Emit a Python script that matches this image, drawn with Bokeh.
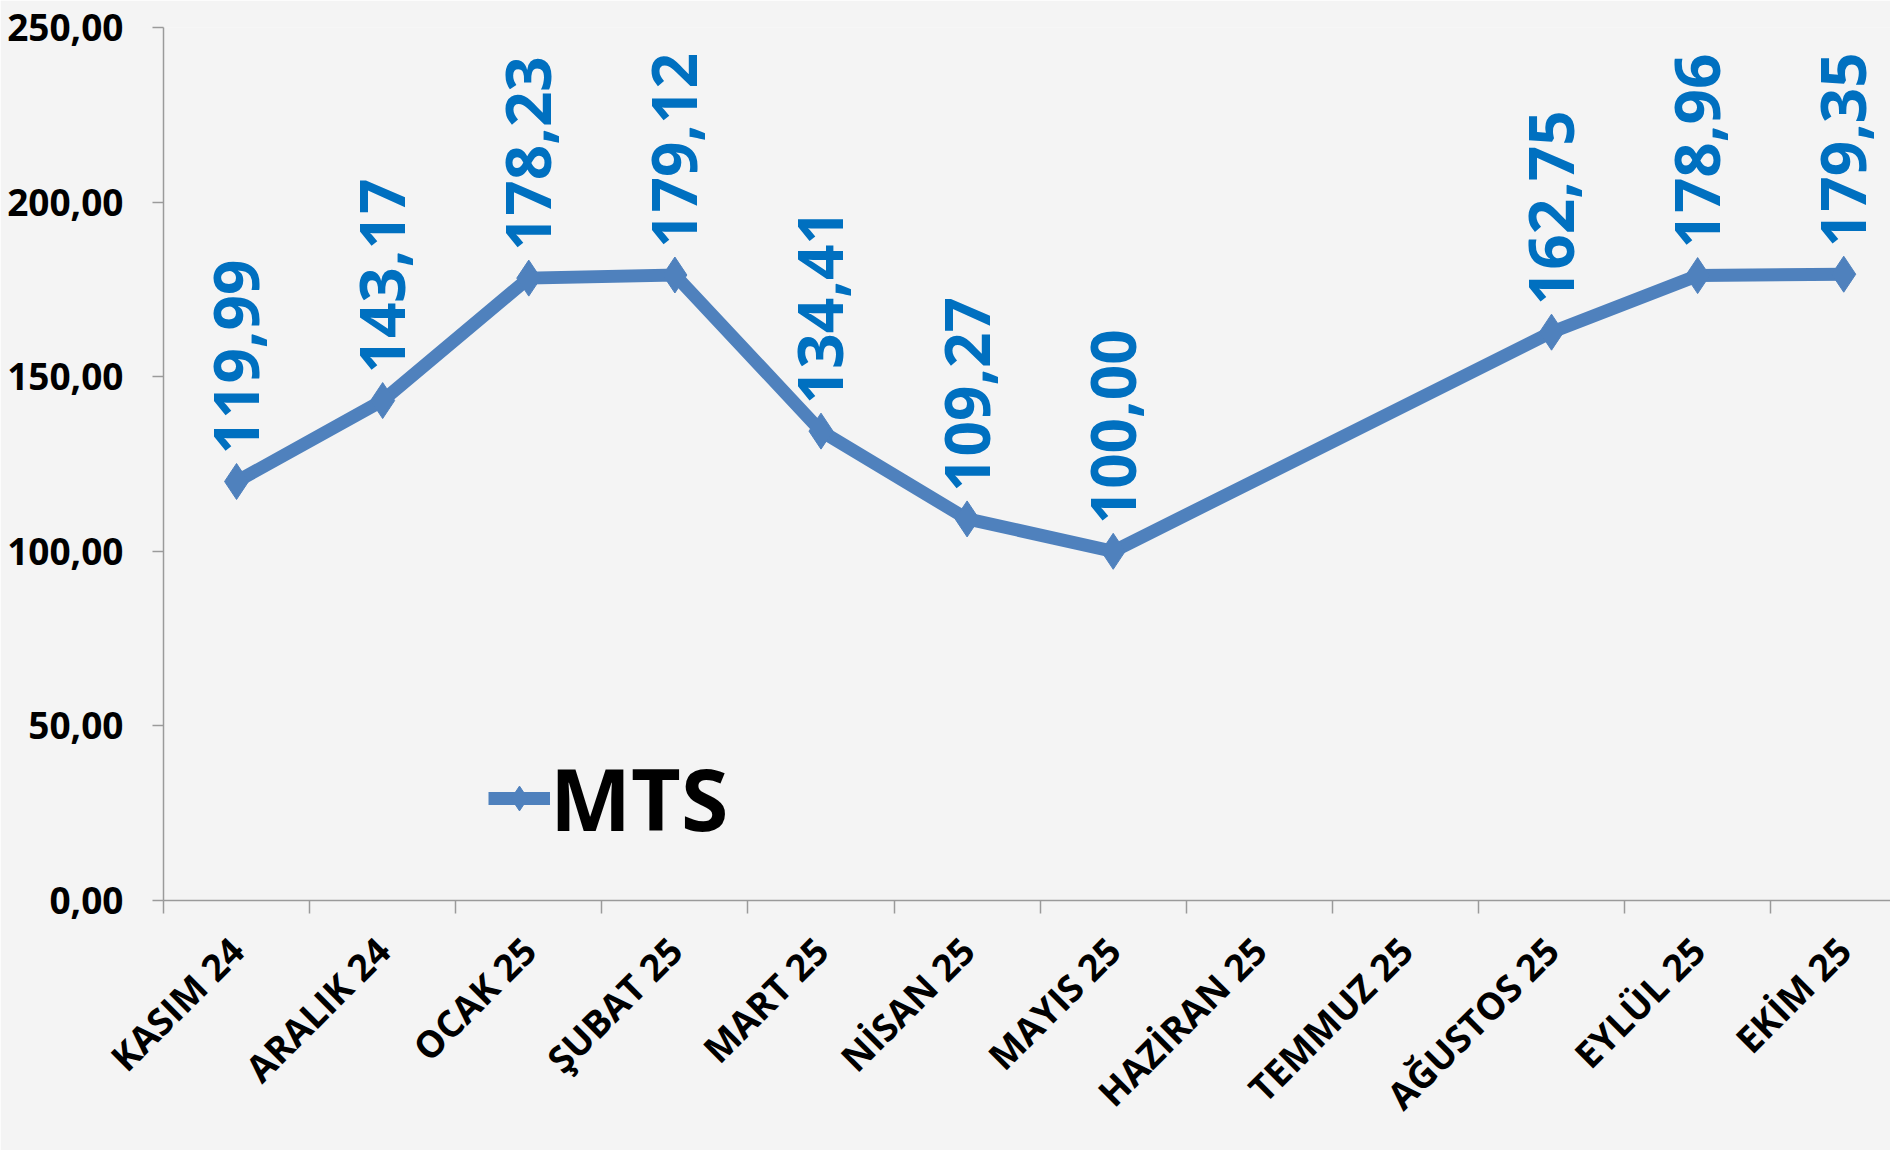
import math
from bokeh.plotting import figure
from bokeh.models import (ColumnDataSource, FixedTicker, Range1d, Legend, LegendItem)
from bokeh.core.properties import value
from bokeh.embed import file_html
from bokeh.resources import INLINE

# ---- data ----
categories = ["KASIM 24", "ARALIK 24", "OCAK 25", "ŞUBAT 25", "MART 25", "NİSAN 25",
              "MAYIS 25", "HAZİRAN 25", "TEMMUZ 25", "AĞUSTOS 25", "EYLÜL 25", "EKİM 25"]
mts_values = [119.99, 143.17, 178.23, 179.12, 134.41, 109.27, 100.00,
              None, None, 162.75, 178.96, 179.35]
y_ticks = [0, 50, 100, 150, 200, 250]
y_tick_labels = ["0,00", "50,00", "100,00", "150,00", "200,00", "250,00"]
series_name = "MTS"

FONT = "Open Sans"
BG = "#f4f4f4"
LINE = "#4f81bd"
LABEL = "#0070c0"
AXIS = "#9a9a9a"

xs = [i for i, v in enumerate(mts_values) if v is not None]
ys = [v for v in mts_values if v is not None]
labels = [f"{v:.2f}".replace(".", ",") for v in ys]
src = ColumnDataSource(dict(x=xs, y=ys, label=labels))

p = figure(width=1890, height=1150, output_backend="svg", toolbar_location=None,
           x_range=Range1d(-0.5, 11.32), y_range=Range1d(0, 250),
           min_border_left=163, min_border_top=27, min_border_bottom=250,
           min_border_right=0)
p.background_fill_color = BG
p.border_fill_color = BG
p.outline_line_color = None
p.xgrid.visible = False
p.ygrid.visible = False

line_r = p.line("x", "y", source=src, line_color=LINE, line_width=13, line_join="miter")
mark_r = p.scatter("x", "y", source=src, marker="diamond", size=36,
                   fill_color=LINE, line_color=LINE)

p.text("x", "y", text="label", source=src, angle=math.pi / 2,
       text_align="left", text_baseline="middle", x_offset=0, y_offset=-27,
       text_font=value(FONT), text_font_style="bold", text_font_size="62px",
       text_color=LABEL)

# x axis
xa = p.xaxis[0]
xa.ticker = FixedTicker(ticks=list(range(len(categories))),
                        minor_ticks=[i - 0.5 for i in range(len(categories) + 1)])
xa.major_label_overrides = {i: c for i, c in enumerate(categories)}
xa.major_tick_out = 0
xa.major_tick_in = 0
xa.minor_tick_out = 13
xa.minor_tick_in = 0
xa.minor_tick_line_color = AXIS
xa.minor_tick_line_width = 1.5
xa.axis_line_color = AXIS
xa.axis_line_width = 1.5
xa.major_label_orientation = math.pi / 4
xa.major_label_standoff = 30
xa.major_label_text_font = FONT
xa.major_label_text_font_style = "bold"
xa.major_label_text_font_size = "37px"
xa.major_label_text_color = "black"

# y axis
ya = p.yaxis[0]
ya.ticker = FixedTicker(ticks=y_ticks)
ya.major_label_overrides = {t: l for t, l in zip(y_ticks, y_tick_labels)}
ya.minor_tick_line_color = None
ya.major_tick_out = 11
ya.major_tick_in = 0
ya.major_tick_line_color = AXIS
ya.major_tick_line_width = 1.5
ya.axis_line_color = AXIS
ya.axis_line_width = 1.5
ya.major_label_standoff = 29
ya.major_label_text_font = FONT
ya.major_label_text_font_style = "bold"
ya.major_label_text_font_size = "37px"
ya.major_label_text_color = "black"

legend = Legend(items=[LegendItem(label=series_name, renderers=[line_r, mark_r])],
                location=(325, 44), padding=0, margin=0, spacing=0,
                glyph_width=62, glyph_height=80, label_standoff=0,
                label_text_font=FONT, label_text_font_style="bold",
                label_text_font_size="86px", label_text_color="black",
                border_line_color=None, background_fill_alpha=0)
p.add_layout(legend, "center")

open("out.html", "w").write(file_html(p, INLINE))
